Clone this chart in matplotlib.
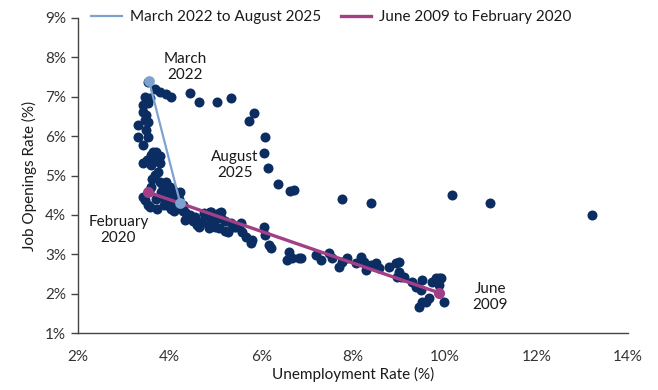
import matplotlib.pyplot as plt
from matplotlib.ticker import FuncFormatter

plt.rcParams['font.family'] = ['Lato', 'DejaVu Sans']

# Monthly readings (unemployment rate %, job openings rate %)
unemployment = [
    3.53, 3.69, 3.80, 3.93, 4.04, 4.45, 4.65, 5.04, 5.33, 5.85, 5.74, 6.07, 6.05, 6.14,
    6.36, 6.62, 6.71, 7.76, 8.39, 10.17, 10.98, 13.21,
    3.47, 3.58, 3.42, 3.53, 3.42, 3.49, 3.47, 3.53, 3.31, 3.49, 3.31, 3.53, 3.42, 3.64,
    3.71, 3.60, 3.75, 3.42, 3.60, 3.80, 3.69, 3.80, 3.93, 3.60, 3.42, 3.47, 3.53, 3.82,
    3.97, 4.08, 4.23, 3.97, 4.12, 4.26, 4.34, 4.34, 4.56, 4.69, 4.85, 5.00, 5.13, 4.63,
    4.85, 5.07, 4.89, 5.07, 3.85, 3.90, 4.00, 4.10, 3.70, 3.90, 4.00, 3.65, 3.75, 4.15,
    4.74, 4.91, 5.13, 4.69, 4.85, 5.00, 5.33, 5.55, 5.28, 5.57, 5.66, 5.79, 5.77, 6.05,
    6.09, 6.16, 6.20, 6.60, 6.66, 6.82, 6.55, 6.86, 7.19, 7.30, 7.47, 7.54, 7.69, 7.76,
    7.87, 8.07, 8.17, 8.24, 8.28, 8.39, 8.50, 8.57, 8.79, 8.94, 8.96, 9.01, 9.01, 9.05,
    9.12, 9.29, 9.51, 9.38, 9.49, 9.51, 9.44, 9.73, 9.88, 9.88, 9.66, 9.99, 9.88, 9.80,
    9.92, 9.60, 5.20, 5.45, 4.45, 4.20, 4.30, 3.55,
    3.66, 3.78, 3.50, 3.85, 3.95, 4.05, 4.18, 3.88, 4.02, 4.40, 4.52, 4.78, 4.95, 5.20,
    5.40, 4.60, 3.62, 3.58, 3.72, 4.10, 4.30, 4.48,
]
openings = [
    7.37, 7.19, 7.12, 7.07, 6.99, 7.09, 6.86, 6.86, 6.96, 6.58, 6.38, 5.97, 5.57, 5.19,
    4.78, 4.60, 4.63, 4.40, 4.30, 4.50, 4.30, 4.00,
    6.99, 6.96, 6.79, 6.84, 6.61, 6.53, 6.41, 6.36, 6.28, 6.15, 5.97, 5.97, 5.77, 5.59,
    5.59, 5.52, 5.44, 5.31, 5.26, 5.31, 5.01, 4.83, 4.83, 4.71, 4.45, 4.38, 4.25, 4.58,
    4.55, 4.45, 4.58, 4.30, 4.20, 4.17, 4.07, 3.87, 3.94, 3.82, 3.94, 3.87, 3.92, 3.69,
    3.66, 3.66, 4.07, 4.05, 4.70, 4.60, 4.70, 4.60, 4.40, 4.40, 4.20, 5.45, 5.10, 4.35,
    4.05, 4.07, 4.07, 3.79, 3.74, 3.69, 3.79, 3.79, 3.56, 3.56, 3.44, 3.36, 3.28, 3.69,
    3.49, 3.23, 3.16, 3.06, 2.90, 2.90, 2.85, 2.90, 2.98, 2.85, 3.03, 2.90, 2.68, 2.80,
    2.90, 2.78, 2.93, 2.80, 2.60, 2.73, 2.78, 2.65, 2.68, 2.78, 2.42, 2.80, 2.55, 2.42,
    2.42, 2.29, 2.35, 2.17, 2.09, 1.79, 1.66, 2.29, 2.40, 2.22, 1.89, 1.79, 2.02, 2.40,
    2.40, 1.79, 3.60, 3.70, 4.00, 4.40, 4.10, 4.60,
    5.40, 5.50, 5.40, 4.75, 4.50, 4.35, 4.50, 4.25, 4.15, 3.95, 3.85, 3.98, 3.78, 3.85,
    3.70, 3.75, 4.90, 4.20, 4.15, 4.10, 4.25, 3.92,
]

# Highlighted episodes: start and end points
recent_x = [3.55, 4.23]   # March 2022 -> August 2025
recent_y = [7.40, 4.30]
prior_x = [3.52, 9.88]    # February 2020 -> June 2009
prior_y = [4.58, 2.02]

navy = '#0b2d62'
blue = '#7ea2cf'
magenta = '#a23f86'

fig = plt.figure(figsize=(6.58, 3.9), dpi=100)
ax = fig.add_axes([0.1185, 0.146, 0.836, 0.808])

ax.scatter(unemployment, openings, s=52, color=navy, linewidths=0, zorder=2)
ax.plot(recent_x, recent_y, color=blue, lw=1.6, zorder=3, label='March 2022 to August 2025')
ax.scatter(recent_x, recent_y, s=60, color=blue, linewidths=0, zorder=4)
ax.plot(prior_x, prior_y, color=magenta, lw=2.4, zorder=3, label='June 2009 to February 2020')
ax.scatter(prior_x, prior_y, s=64, color=magenta, linewidths=0, zorder=4)

txt = dict(ha='center', va='center', fontsize=11, color='#1a1a1a', linespacing=1.15)
ax.text(4.34, 7.75, 'March\n2022', **txt)
ax.text(5.42, 5.26, 'August\n2025', **txt)
ax.text(2.88, 3.61, 'February\n2020', **txt)
ax.text(11.0, 1.91, 'June\n2009', **txt)

ax.set_xlim(2, 14)
ax.set_ylim(1, 9)
ax.set_xticks(range(2, 15, 2))
ax.set_yticks(range(1, 10))
pct = FuncFormatter(lambda v, p: f'{v:.0f}%')
ax.xaxis.set_major_formatter(pct)
ax.yaxis.set_major_formatter(pct)
ax.tick_params(axis='x', length=0, pad=12, labelsize=11, labelcolor='#333333')
ax.tick_params(axis='y', length=5, width=1, color='#444444', direction='out',
               labelsize=11, labelcolor='#333333')
for side in ['top', 'right']:
    ax.spines[side].set_visible(False)
for side in ['left', 'bottom']:
    ax.spines[side].set_color('#444444')
    ax.spines[side].set_linewidth(1)

ax.set_xlabel('Unemployment Rate (%)', fontsize=11, color='#1a1a1a', labelpad=2)
ax.set_ylabel('Job Openings Rate (%)', fontsize=11, color='#1a1a1a', labelpad=6)

fig.legend(loc='upper left', bbox_to_anchor=(0.118, 1.01), ncol=2, frameon=False,
           fontsize=11, handlelength=2.0, columnspacing=1.3, handletextpad=0.5,
           labelcolor='#1a1a1a')

fig.savefig('out.png', dpi=100)
